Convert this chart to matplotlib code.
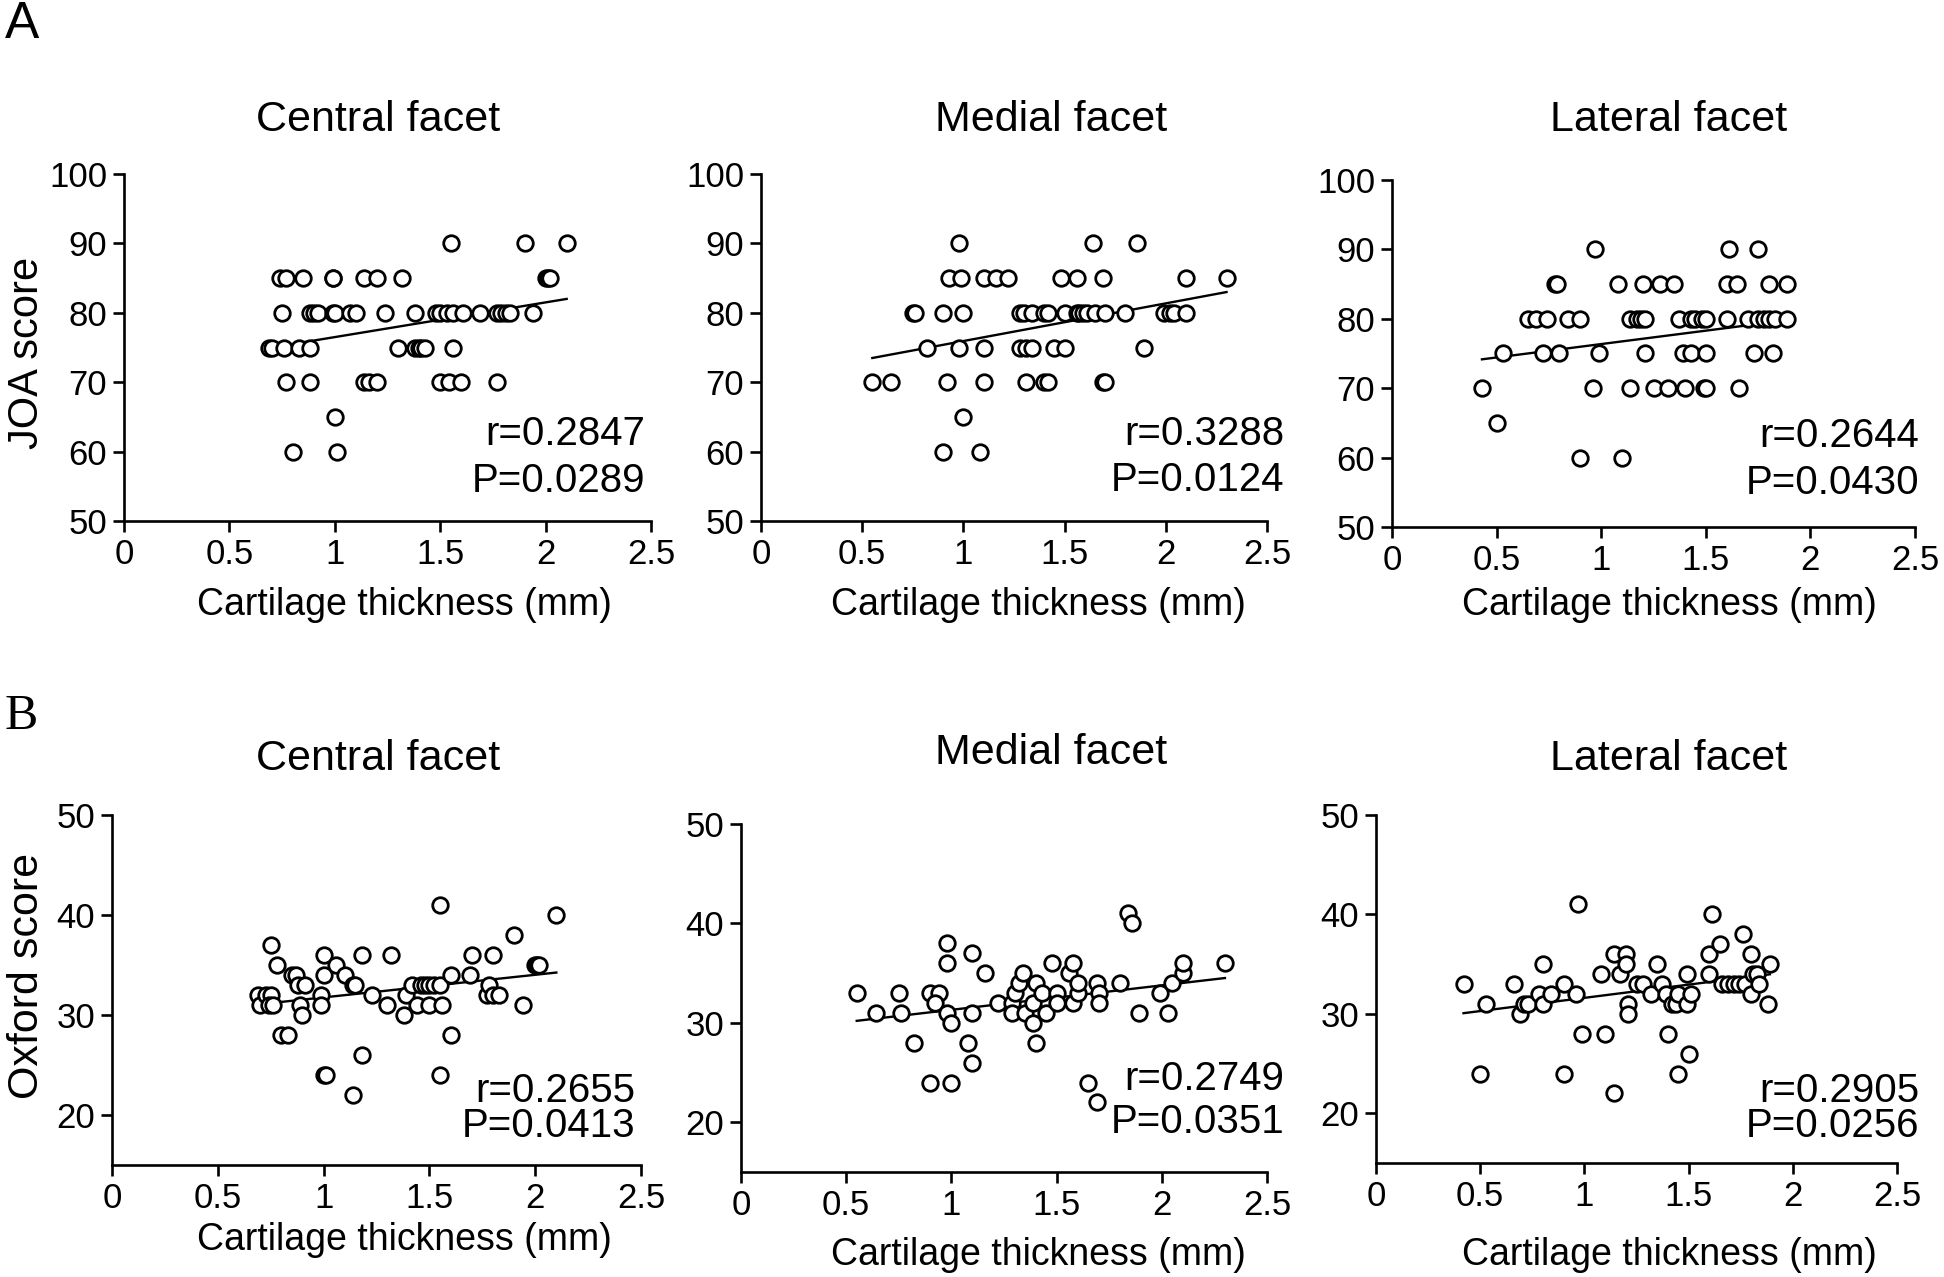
import numpy as np
import matplotlib
matplotlib.use("Agg")
import matplotlib.pyplot as plt
from matplotlib.ticker import FormatStrFormatter

plt.rcParams['font.family'] = ['Liberation Sans', 'DejaVu Sans']

# ---- data ----
titles = ["Central facet", "Medial facet", "Lateral facet"]

# A: JOA score vs cartilage thickness (mm)
joa_central_x = [1.55, 1.90, 2.10,
                 0.74, 0.77, 0.85, 0.99, 0.99, 1.14, 1.20, 1.32, 2.00, 2.01, 2.02,
                 0.75, 0.88, 0.90, 0.92, 0.99, 1.00, 1.07, 1.10, 1.24, 1.38, 1.48, 1.50, 1.53,
                 1.56, 1.61, 1.69, 1.77, 1.79, 1.81, 1.83, 1.94,
                 0.69, 0.70, 0.76, 0.83, 0.88, 1.30, 1.38, 1.40, 1.41, 1.43, 1.56,
                 0.77, 0.88, 1.14, 1.16, 1.20, 1.50, 1.54, 1.60, 1.77,
                 1.00,
                 0.80, 1.01]
joa_central_y = [90, 90, 90,
                 85, 85, 85, 85, 85, 85, 85, 85, 85, 85, 85,
                 80, 80, 80, 80, 80, 80, 80, 80, 80, 80, 80, 80, 80,
                 80, 80, 80, 80, 80, 80, 80, 80,
                 75, 75, 75, 75, 75, 75, 75, 75, 75, 75, 75,
                 70, 70, 70, 70, 70, 70, 70, 70, 70,
                 65,
                 60, 60]

joa_medial_x = [0.98, 1.64, 1.86,
                0.93, 0.99, 1.10, 1.16, 1.22, 1.48, 1.56, 1.69, 2.10, 2.30,
                0.75, 0.76, 0.90, 1.00, 1.28, 1.30, 1.34, 1.40, 1.42, 1.50, 1.56, 1.57,
                1.59, 1.61, 1.65, 1.70, 1.80, 1.99, 2.02, 2.04, 2.10,
                0.82, 0.98, 1.10, 1.28, 1.31, 1.34, 1.45, 1.50, 1.89,
                0.55, 0.64, 0.92, 1.10, 1.31, 1.40, 1.42, 1.69, 1.70,
                1.00,
                0.90, 1.08]
joa_medial_y = [90, 90, 90,
                85, 85, 85, 85, 85, 85, 85, 85, 85, 85,
                80, 80, 80, 80, 80, 80, 80, 80, 80, 80, 80, 80,
                80, 80, 80, 80, 80, 80, 80, 80, 80,
                75, 75, 75, 75, 75, 75, 75, 75, 75,
                70, 70, 70, 70, 70, 70, 70, 70, 70,
                65,
                60, 60]

joa_lateral_x = [0.97, 1.61, 1.75,
                 0.78, 0.79, 1.08, 1.20, 1.28, 1.35, 1.60, 1.65, 1.80, 1.89,
                 0.65, 0.69, 0.74, 0.84, 0.90, 1.14, 1.17, 1.19, 1.21, 1.37, 1.43, 1.45,
                 1.48, 1.50, 1.60, 1.70, 1.75, 1.78, 1.80, 1.83, 1.89,
                 0.53, 0.72, 0.80, 0.99, 1.21, 1.39, 1.43, 1.50, 1.73, 1.82,
                 0.43, 0.96, 1.14, 1.25, 1.32, 1.40, 1.49, 1.50, 1.66,
                 0.50,
                 0.90, 1.10]
joa_lateral_y = [90, 90, 90,
                 85, 85, 85, 85, 85, 85, 85, 85, 85, 85,
                 80, 80, 80, 80, 80, 80, 80, 80, 80, 80, 80, 80,
                 80, 80, 80, 80, 80, 80, 80, 80, 80,
                 75, 75, 75, 75, 75, 75, 75, 75, 75, 75,
                 70, 70, 70, 70, 70, 70, 70, 70, 70,
                 65,
                 60, 60]

# B: Oxford score vs cartilage thickness (mm)
ox_central_x = [0.69, 0.70, 0.73, 0.75, 0.74, 0.76, 0.75, 0.78, 0.80, 0.83, 0.85, 0.87,
                0.88, 0.91, 0.89, 0.90, 0.99, 0.99, 1.00, 1.00, 1.00, 1.01, 1.06, 1.10,
                1.14, 1.15, 1.18, 1.18, 1.14, 1.23, 1.30, 1.32, 1.38, 1.39, 1.42, 1.44,
                1.46, 1.48, 1.50, 1.52, 1.55, 1.50, 1.56, 1.55, 1.55, 1.60, 1.60, 1.69,
                1.70, 1.77, 1.78, 1.80, 1.80, 1.83, 1.90, 1.94, 2.00, 2.01, 2.02, 2.10]
ox_central_y = [32, 31, 32, 32, 31, 31, 37, 35, 28, 28, 34, 34,
                33, 33, 31, 30, 32, 31, 34, 36, 24, 24, 35, 34,
                33, 33, 36, 26, 22, 32, 31, 36, 30, 32, 33, 31,
                33, 33, 33, 33, 33, 31, 31, 41, 24, 28, 34, 34,
                36, 32, 33, 36, 32, 32, 38, 31, 35, 35, 35, 40]

ox_medial_x = [0.55, 0.64, 0.75, 0.76, 0.82, 0.90, 0.94, 0.92, 0.90, 1.00, 0.98, 0.98,
               0.98, 1.00, 1.08, 1.10, 1.10, 1.10, 1.16, 1.22, 1.29, 1.30, 1.32, 1.34,
               1.29, 1.35, 1.39, 1.40, 1.39, 1.40, 1.43, 1.45, 1.48, 1.50, 1.50, 1.56,
               1.58, 1.58, 1.60, 1.60, 1.69, 1.70, 1.70, 1.65, 1.69, 1.80, 1.84, 1.86,
               1.89, 1.99, 2.03, 2.05, 2.10, 2.10, 2.30]
ox_medial_y = [33, 31, 33, 31, 28, 33, 33, 32, 24, 24, 38, 36,
               31, 30, 28, 26, 37, 31, 35, 32, 32, 33, 34, 35,
               31, 31, 32, 34, 30, 28, 33, 31, 36, 33, 32, 35,
               32, 36, 33, 34, 34, 33, 32, 24, 22, 34, 41, 40,
               31, 33, 31, 34, 35, 36, 36]

ox_lateral_x = [0.42, 0.50, 0.53, 0.66, 0.69, 0.71, 0.73, 0.78, 0.80, 0.80, 0.84, 0.90,
                0.90, 0.96, 0.97, 0.99, 1.08, 1.10, 1.14, 1.14, 1.17, 1.20, 1.20, 1.21,
                1.21, 1.25, 1.28, 1.32, 1.35, 1.37, 1.39, 1.40, 1.42, 1.44, 1.45, 1.45,
                1.49, 1.49, 1.51, 1.50, 1.60, 1.60, 1.61, 1.65, 1.66, 1.69, 1.72, 1.74,
                1.77, 1.76, 1.80, 1.80, 1.81, 1.83, 1.84, 1.88, 1.89]
ox_lateral_y = [33, 24, 31, 33, 30, 31, 31, 32, 31, 35, 32, 33,
                24, 32, 41, 28, 34, 28, 36, 22, 34, 36, 35, 31,
                30, 33, 33, 32, 35, 33, 32, 28, 31, 31, 32, 24,
                34, 31, 32, 26, 34, 36, 40, 37, 33, 33, 33, 33,
                33, 38, 36, 32, 34, 34, 33, 31, 35]

# regression lines as drawn (slope, intercept)
joa_fits = [(5.0, 71.5), (5.43, 70.5), (3.86, 72.5)]
ox_fits = [(2.26, 29.5), (2.46, 28.85), (2.66, 28.95)]

joa_r = ["r=0.2847", "r=0.3288", "r=0.2644"]
joa_p = ["P=0.0289", "P=0.0124", "P=0.0430"]
ox_r = ["r=0.2655", "r=0.2749", "r=0.2905"]
ox_p = ["P=0.0413", "P=0.0351", "P=0.0256"]

# ---- layout (pixel boxes in a 1944x1277 canvas) ----
W, H = 1944, 1277
fig = plt.figure(figsize=(W / 100, H / 100), dpi=100)


def fxy(px, py):
    return px / W, 1 - py / H


def add_axes(left, top, right, bottom):
    return fig.add_axes([left / W, 1 - bottom / H, (right - left) / W, (bottom - top) / H])


def draw_panel(ax, x, y, fit, ylim, yticks):
    x = np.asarray(x)
    ax.scatter(x, y, s=125, facecolors='white', edgecolors='black',
               linewidths=2.0, zorder=3, clip_on=False)
    xs = np.array([x.min(), x.max()])
    ax.plot(xs, fit[0] * xs + fit[1], color='black', lw=1.7, zorder=2)
    ax.set_xlim(0, 2.5)
    ax.set_ylim(*ylim)
    ax.set_xticks([0, 0.5, 1, 1.5, 2, 2.5])
    ax.set_yticks(yticks)
    ax.xaxis.set_major_formatter(FormatStrFormatter('%g'))
    for side in ['top', 'right']:
        ax.spines[side].set_visible(False)
    for side in ['left', 'bottom']:
        ax.spines[side].set_linewidth(1.9)
    ax.tick_params(direction='out', length=8, width=1.9, labelsize=25, pad=4)


boxes_a = [(124, 174, 651, 521), (761, 174, 1267, 521), (1392, 180, 1915, 527)]
boxes_b = [(112, 815, 641, 1165), (741, 824, 1267, 1172), (1376, 815, 1897, 1163)]

joa_x = [joa_central_x, joa_medial_x, joa_lateral_x]
joa_y = [joa_central_y, joa_medial_y, joa_lateral_y]
ox_x = [ox_central_x, ox_medial_x, ox_lateral_x]
ox_y = [ox_central_y, ox_medial_y, ox_lateral_y]

for i in range(3):
    ax = add_axes(*boxes_a[i])
    draw_panel(ax, joa_x[i], joa_y[i], joa_fits[i], (50, 100), [50, 60, 70, 80, 90, 100])
    ax = add_axes(*boxes_b[i])
    draw_panel(ax, ox_x[i], ox_y[i], ox_fits[i], (15, 50), [20, 30, 40, 50])

# titles
title_a = [(378, 120), (1051, 120), (1669, 120)]
title_b = [(378, 759), (1051, 753), (1669, 759)]
for i in range(3):
    fig.text(*fxy(*title_a[i]), titles[i], ha='center', va='center', fontsize=31)
    fig.text(*fxy(*title_b[i]), titles[i], ha='center', va='center', fontsize=31)

# x labels
xl_a = [(404, 605), (1038, 605), (1669, 605)]
xl_b = [(404, 1240), (1038, 1255), (1669, 1255)]
for i in range(3):
    fig.text(*fxy(*xl_a[i]), "Cartilage thickness (mm)", ha='center', va='center', fontsize=27)
    fig.text(*fxy(*xl_b[i]), "Cartilage thickness (mm)", ha='center', va='center', fontsize=27)

# y labels
fig.text(*fxy(27, 353), "JOA score", rotation=90, ha='center', va='center', fontsize=30)
fig.text(*fxy(27, 976), "Oxford score", rotation=90, ha='center', va='center', fontsize=31)

# stats
stat_a = [(645, 434, 481), (1284, 434, 480), (1919, 436, 483)]
stat_b = [(635, 1091, 1126), (1284, 1079, 1122), (1919, 1091, 1126)]
for i in range(3):
    xr, yr, yp = stat_a[i]
    fig.text(*fxy(xr, yr), joa_r[i], ha='right', va='center', fontsize=29)
    fig.text(*fxy(xr, yp), joa_p[i], ha='right', va='center', fontsize=29)
    xr, yr, yp = stat_b[i]
    fig.text(*fxy(xr, yr), ox_r[i], ha='right', va='center', fontsize=29)
    fig.text(*fxy(xr, yp), ox_p[i], ha='right', va='center', fontsize=29)

# panel letters
fig.text(*fxy(22, 24), "A", ha='center', va='center', fontsize=37)
fig.text(*fxy(21, 717), "B", ha='center', va='center', fontsize=36, family='Liberation Serif')

fig.savefig("out.png", dpi=100, facecolor='white')
